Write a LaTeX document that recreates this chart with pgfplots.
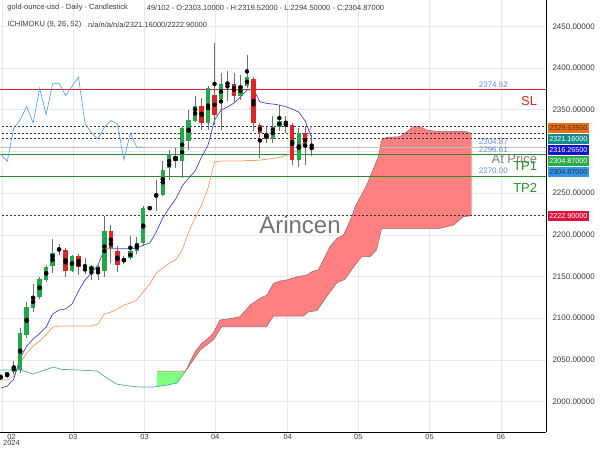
\documentclass[border=0pt]{standalone}
\usepackage{fontspec}
\setmainfont{Liberation Sans}
\usepackage{pgfplots}
\pgfplotsset{compat=1.18}
\usepackage{pgfplotstable}

\definecolor{cgreen}{RGB}{38,166,74}
\definecolor{cred}{RGB}{220,38,38}
\definecolor{wick}{RGB}{110,110,110}
\definecolor{tenkan}{RGB}{70,70,200}
\definecolor{kijun}{RGB}{255,150,90}
\definecolor{chikou}{RGB}{100,160,240}
\definecolor{tealline}{RGB}{80,165,160}
\definecolor{cloudred}{RGB}{255,128,128}
\definecolor{cloudgreen}{RGB}{128,255,128}
\definecolor{cloudedge}{RGB}{150,100,100}
\definecolor{slred}{RGB}{210,40,40}
\definecolor{tpgreen}{RGB}{40,140,40}
\definecolor{atgray}{RGB}{190,190,190}
\definecolor{lblblue}{RGB}{100,140,220}
\definecolor{bOrange}{RGB}{240,110,20}
\definecolor{bTeal}{RGB}{20,140,140}
\definecolor{bBlue}{RGB}{20,20,200}
\definecolor{bGreen}{RGB}{40,170,70}
\definecolor{bLight}{RGB}{50,150,240}
\definecolor{bCrimson}{RGB}{220,20,60}
\definecolor{txt}{RGB}{60,60,60}

\pgfplotstableread{
i o h l c
1 2030 2036 2028 2035
2 2035 2049 2033 2043
3 2038 2088 2034 2082
4 2080 2120 2076 2114
5 2112 2141 2108 2127
6 2126 2150 2123 2147
7 2146 2164 2143 2162
8 2162 2195 2154 2178
9 2182 2189 2176 2183
11 2157 2176 2155 2174
14 2157 2164 2146 2162
16 2157 2222.9 2149 2204
19 2167 2174 2165 2172
20 2172 2199 2170 2180
21 2180 2197 2177 2190
22 2190 2234 2186 2232
23 2231.5 2233 2231 2232.5
24 2245 2266 2229 2249
25 2248 2288 2246 2278
26 2280 2302 2266 2297
28 2288 2330 2268 2328
29 2312 2350 2302 2338
30 2337 2366 2335 2354
32 2334 2378 2326 2376
34 2363 2394 2326 2381
35 2381 2396 2360 2382
37 2367 2392 2362 2378
38 2378 2416 2376 2389
42 2315 2342 2310 2329
43 2329 2356 2324 2337
46 2290 2328 2281 2322
48 2303.1 2319.52 2294.5 2304.87
}\greenc

\pgfplotstableread{
i o h l c
0 2030 2033 2026 2028
10 2182 2184 2150 2157
12 2175 2177 2152 2162
13 2161 2172 2153 2156
15 2161 2164 2146 2157
17 2204 2212 2166 2184
18 2181 2186 2156 2164
27 2294 2304 2280 2288
31 2354 2364 2326 2334
33 2368 2430 2332 2344
36 2381 2394 2358 2367
39 2387 2389 2324 2334
40 2332 2334 2292 2322
41 2321 2329 2310 2315
44 2336 2342 2322 2333
45 2332 2334 2284 2290
47 2322 2330 2284 2305
}\redc

\pgfplotstableread{
i v
0 2016.2
1 2018.6
2 2027
3 2052.2
4 2066.6
5 2075
6 2081.6
7 2089.4
8 2105
9 2109.8
10 2111
11 2117
12 2132.6
13 2145.7
14 2154.1
15 2163.7
16 2182.9
17 2183.3
18 2183.3
19 2183.3
20 2183.3
21 2184.1
22 2187.7
23 2190.1
24 2203.3
25 2220.1
26 2232.1
27 2242.9
28 2258.5
29 2268.1
30 2276.5
31 2293.3
32 2307.7
33 2337.6
34 2349.6
35 2353.2
36 2358
37 2365.2
38 2373.6
39 2374.5
40 2359.6
41 2357.7
42 2356.8
43 2355.6
44 2353.6
45 2350.8
46 2347.2
47 2336.4
48 2316.3
}\tenkantab

\pgfplotstableread{
i v
0 2025.8
1 2025.8
2 2030.6
3 2046.2
4 2058.2
5 2066.6
6 2072.6
7 2079.8
8 2089.4
9 2090.6
10 2090.6
11 2090.6
12 2090.6
13 2090.6
14 2090.6
15 2093
16 2105
17 2107.4
18 2111
19 2115.8
20 2118.2
21 2121.8
22 2131.4
23 2141
24 2154.1
25 2160.1
26 2166.1
27 2169.7
28 2181.7
29 2203.3
30 2220.1
31 2235.7
32 2256.1
33 2287.3
34 2288.5
35 2288.5
36 2288.5
37 2288.5
38 2289
39 2289
40 2289.6
41 2290.5
42 2291.7
43 2292.9
44 2295
45 2297.5
46 2302.3
47 2313.6
48 2329.6
}\kijuntab

\pgfplotstableread{
i v
0 2297
1 2288
2 2328
3 2338
4 2354
5 2334
6 2376
7 2344
8 2381
9 2382
10 2367
11 2378
12 2389
13 2334
14 2322
15 2315
16 2329
17 2337
18 2333
19 2290
20 2322
21 2305
22 2304.87
}\chikoutab

\begin{document}
\begin{tikzpicture}
\useasboundingbox (0,0) rectangle (600bp,-450bp);
\begin{axis}[
  at={(0,0)}, anchor=north west, scale only axis,
  width=546bp, height=432bp,
  xmin=-0.12, xmax=84.17, ymin=1963.5, ymax=2481.6,
  axis x line=bottom, axis y line=right,
  axis line style={-, black, line width=0.8bp},
  major tick length=0pt,
  ytick={2000,2050,2100,2150,2200,2250,2350,2400,2450},
  extra y ticks={2300},
  extra y tick labels={},
  scaled y ticks=false,
  yticklabel style={/pgf/number format/fixed, /pgf/number format/fixed zerofill, /pgf/number format/precision=5, /pgf/number format/1000 sep={}, /pgf/number format/assume math mode=true, font=\fontsize{8bp}{9bp}\selectfont, text=txt, anchor=west, xshift=3bp},
  xtick={0.19,11.15,22.2,33.1,44.3,55.2,66.2,77.2},
  xticklabels={,03,03,04,04,05,05,06},
  extra x ticks={1.65},
  extra x tick labels={{02\\[-2bp]2024}},
  extra x tick style={grid=none},
  xticklabel style={font=\fontsize{7.5bp}{8bp}\selectfont, text=txt, align=center, yshift=1bp},
  grid=major,
  grid style={draw=black!9, line width=0.6bp},
]
% cloud fills
\addplot[fill=cloudred, draw=none, forget plot] coordinates {
(28.5,2036.2) (30.0,2059.8) (31.0,2069.8) (32.0,2075.8) (32.8,2081.8) (33.8,2097.8) (35.6,2099.8) (36.9,2101.7) (38.5,2115.8) (40.0,2123.8) (41.1,2127.8) (42.1,2141.8) (43.1,2144.6) (44.1,2145.8) (45.7,2149.7) (47.2,2151.7) (48.2,2156.5) (49.0,2157.7) (49.8,2169.7) (50.8,2185.7) (51.9,2195.8) (52.9,2199.7) (53.4,2208.1) (54.2,2221.7) (54.7,2233.7) (56.5,2259.7) (58.3,2293.7) (58.8,2313.7) (59.6,2316.9) (61.6,2317.7) (62.7,2323.7) (63.7,2329.6) (64.7,2329.6) (65.8,2325.6) (67.8,2323.6) (70.4,2324.4) (71.9,2323.6) (72.7,2321.2)
(72.7,2222.9) (71.4,2221.7) (69.9,2211.7) (67.8,2207.8) (58.8,2207.8) (58.0,2181.7) (57.0,2173.7) (55.7,2173.7) (54.7,2163.7) (53.1,2146.6) (51.9,2142.5) (50.3,2125.7) (48.8,2108.9) (47.5,2107.7) (46.7,2102.6) (42.1,2102.6) (41.0,2089.7) (34.1,2089.7) (32.8,2073.8) (30.8,2062)
} -- cycle;
\addplot[fill=cloudgreen, draw=none, forget plot] coordinates {
(24.1,2036.6) (28.5,2036.2) (27.2,2022.2) (25.7,2019.8) (24.1,2017.6)
} -- cycle;
% cloud edges
\addplot[cloudedge, line width=0.5bp, forget plot] coordinates {
(28.5,2036.2) (30.0,2059.8) (31.0,2069.8) (32.0,2075.8) (32.8,2081.8) (33.8,2097.8) (35.6,2099.8) (36.9,2101.7) (38.5,2115.8) (40.0,2123.8) (41.1,2127.8) (42.1,2141.8) (43.1,2144.6) (44.1,2145.8) (45.7,2149.7) (47.2,2151.7) (48.2,2156.5) (49.0,2157.7) (49.8,2169.7) (50.8,2185.7) (51.9,2195.8) (52.9,2199.7) (53.4,2208.1) (54.2,2221.7) (54.7,2233.7) (56.5,2259.7) (58.3,2293.7) (58.8,2313.7) (59.6,2316.9) (61.6,2317.7) (62.7,2323.7) (63.7,2329.6) (64.7,2329.6) (65.8,2325.6) (67.8,2323.6) (70.4,2324.4) (71.9,2323.6) (72.7,2321.2)};
\addplot[cloudedge, line width=0.5bp, forget plot] coordinates {
(28.5,2036.2) (30.8,2062) (32.8,2073.8) (34.1,2089.7) (41.0,2089.7) (42.1,2102.6) (46.7,2102.6) (47.5,2107.7) (48.8,2108.9) (50.3,2125.7) (51.9,2142.5) (53.1,2146.6) (54.7,2163.7) (55.7,2173.7) (57.0,2173.7) (58.0,2181.7) (58.8,2207.8) (67.8,2207.8) (69.9,2211.7) (71.4,2221.7) (72.7,2222.9)};
\addplot[color={rgb,255:red,230;green,100;blue,100}, line width=0.6bp, forget plot] coordinates {(24.1,2036.6) (28.5,2036.4)};
% teal line
\addplot[tealline, line width=0.7bp, forget plot] coordinates {
(-0.2,2037.8) (3.2,2037.8) (5.0,2033) (8.1,2041.4) (9.4,2038.6) (12.2,2037.8) (14.9,2036.6) (16.4,2028) (17.9,2021) (19.5,2019) (21.5,2017.4) (23.5,2017.4) (25.7,2019.8) (27.2,2022.2) (28.5,2036.2)};
% level lines
\addplot[slred, line width=0.7bp, forget plot] coordinates {(-1,2374.62) (90,2374.62)};
\addplot[black!80, line width=0.6bp, dash pattern=on 2bp off 2bp, forget plot] coordinates {(-1,2329.635) (90,2329.635)};
\addplot[black!80, line width=0.6bp, dash pattern=on 2bp off 2bp, forget plot] coordinates {(-1,2321.16) (90,2321.16)};
\addplot[black!80, line width=0.6bp, dash pattern=on 2bp off 2bp, forget plot] coordinates {(-1,2316.265) (90,2316.265)};
\addplot[black!80, line width=0.6bp, dash pattern=on 2bp off 2bp, forget plot] coordinates {(-1,2222.9) (90,2222.9)};
\addplot[atgray, line width=0.8bp, forget plot] coordinates {(-1,2304.87) (90,2304.87)};
\addplot[tpgreen, line width=0.7bp, forget plot] coordinates {(-1,2296.61) (90,2296.61)};
\addplot[tpgreen, line width=0.7bp, forget plot] coordinates {(-1,2270.00) (90,2270.00)};
% ichimoku lines
\addplot[kijun, line width=0.7bp, forget plot] table[x=i, y=v] {\kijuntab};
\addplot[tenkan, line width=0.7bp, forget plot] table[x=i, y=v] {\tenkantab};
\addplot[chikou, line width=0.7bp, forget plot] table[x=i, y=v] {\chikoutab};
% wicks
\addplot[only marks, mark=none, forget plot, error bars/.cd, y dir=both, y explicit, error mark=none,
  error bar style={draw=wick, line width=0.8bp}]
  table[x=i, y expr=(\thisrow{h}+\thisrow{l})/2, y error expr=(\thisrow{h}-\thisrow{l})/2] {\greenc};
\addplot[only marks, mark=none, forget plot, error bars/.cd, y dir=both, y explicit, error mark=none,
  error bar style={draw=wick, line width=0.8bp}]
  table[x=i, y expr=(\thisrow{h}+\thisrow{l})/2, y error expr=(\thisrow{h}-\thisrow{l})/2] {\redc};
% bodies
\addplot[only marks, mark=none, forget plot, error bars/.cd, y dir=both, y explicit, error mark=none,
  error bar style={draw=cgreen, line width=4.4bp, line cap=butt}]
  table[x=i, y expr=(\thisrow{o}+\thisrow{c})/2, y error expr={max(abs(\thisrow{c}-\thisrow{o})/2,0.6)}] {\greenc};
\addplot[only marks, mark=none, forget plot, error bars/.cd, y dir=both, y explicit, error mark=none,
  error bar style={draw=cred, line width=4.4bp, line cap=butt}]
  table[x=i, y expr=(\thisrow{o}+\thisrow{c})/2, y error expr={max(abs(\thisrow{c}-\thisrow{o})/2,0.6)}] {\redc};
\end{axis}

% watermark
\node[text=black!55, font=\fontsize{24bp}{26bp}\selectfont, anchor=base] at (300bp,-233bp) {Arincen};

% header
\node[anchor=west, inner sep=0, text=txt, font=\fontsize{7.5bp}{9bp}\selectfont] at (7.3bp,-8bp) {gold-ounce-usd - Daily - Candlestick};
\node[anchor=west, inner sep=0, text=txt, font=\fontsize{7.5bp}{9bp}\selectfont] at (146.7bp,-8bp) {49/102 - O:2303.10000 - H:2319.52000 - L:2294.50000 - C:2304.87000};
\node[anchor=west, inner sep=0, text=txt, font=\fontsize{7.5bp}{9bp}\selectfont] at (7.3bp,-25bp) {ICHIMOKU (9, 26, 52)};
\node[anchor=west, inner sep=0, text=txt, font=\fontsize{7.5bp}{9bp}\selectfont] at (88bp,-25bp) {n/a/n/a/n/a/2321.16000/2222.90000};

% level labels
\node[anchor=east, inner sep=0, text=lblblue, font=\fontsize{8bp}{9bp}\selectfont] at (508bp,-85bp) {2374.62};
\node[anchor=east, inner sep=0, text=slred, font=\fontsize{13bp}{14bp}\selectfont] at (537.3bp,-100.7bp) {SL};
\node[anchor=east, inner sep=0, text=lblblue, font=\fontsize{8bp}{9bp}\selectfont] at (508bp,-141.7bp) {2304.87};
\node[anchor=east, inner sep=0, text=lblblue, font=\fontsize{8bp}{9bp}\selectfont] at (508bp,-150bp) {2296.61};
\node[anchor=east, inner sep=0, text=black!50, font=\fontsize{13bp}{14bp}\selectfont] at (537.3bp,-159bp) {At Price};
\node[anchor=east, inner sep=0, text=tpgreen, font=\fontsize{13bp}{14bp}\selectfont] at (537.3bp,-166bp) {TP1};
\node[anchor=east, inner sep=0, text=lblblue, font=\fontsize{8bp}{9bp}\selectfont] at (508bp,-171bp) {2270.00};
\node[anchor=east, inner sep=0, text=tpgreen, font=\fontsize{13bp}{14bp}\selectfont] at (537.3bp,-187.7bp) {TP2};

% price badges
\tikzset{badge/.style={anchor=west, inner xsep=1.2bp, inner ysep=0bp, minimum height=10bp, text height=5.3bp, text depth=0bp, font=\fontsize{7.2bp}{8bp}\selectfont}}
\node[badge, fill=bOrange, text=black!80] at (548bp,-127.5bp) {2329.63500};
\node[badge, fill=bTeal, text=white] at (548bp,-138.7bp) {2321.16000};
\node[badge, fill=bBlue, text=white] at (548bp,-149.7bp) {2316.26500};
\node[badge, fill=bGreen, text=white] at (548bp,-161bp) {2304.87000};
\node[badge, fill=bLight, text=black!80] at (548bp,-172.3bp) {2304.87000};
\node[badge, fill=bCrimson, text=white] at (548bp,-216.3bp) {2222.90000};
\end{tikzpicture}
\end{document}
